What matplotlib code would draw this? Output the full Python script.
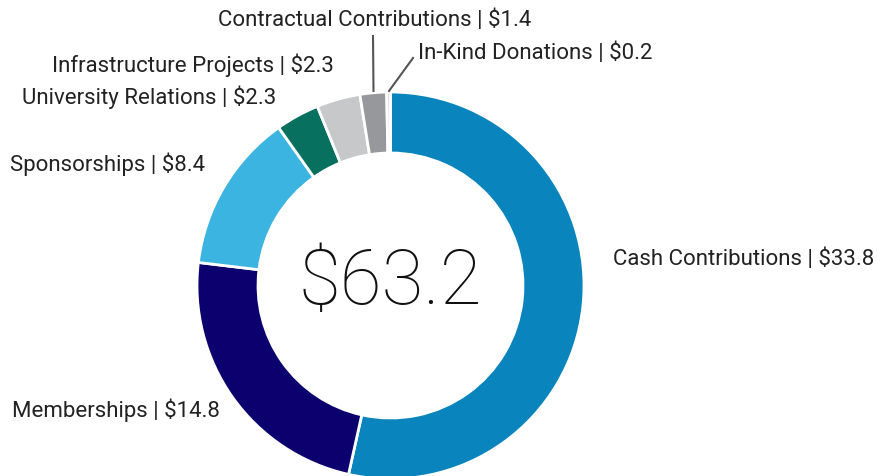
import matplotlib
matplotlib.use('Agg')
import matplotlib.pyplot as plt

categories = ['Cash Contributions', 'Memberships', 'Sponsorships',
              'University Relations', 'Infrastructure Projects',
              'Contractual Contributions', 'In-Kind Donations']
values = [33.8, 14.8, 8.4, 2.3, 2.3, 1.4, 0.2]
colors = ['#0a84bc', '#0b006e', '#3cb4e1', '#08705f', '#c7c8ca', '#97989b', '#dcdcdc']
total = 63.2

# label anchor points in pixel coords (from top-left)
label_pos = [(613, 259), (12, 410), (10, 164), (22, 97), (52, 65), (218, 20), (418, 53)]

W, H = 877, 476
plt.rcParams['font.family'] = ['Roboto', 'DejaVu Sans']

fig = plt.figure(figsize=(W / 100, H / 100), dpi=100)
ax = fig.add_axes([0, 0, 1, 1])

cx, cy, r = 390.5, H - 285.5, 193.5
ax.pie(values, colors=colors, startangle=90, counterclock=False,
       center=(cx, cy), radius=r, frame=True,
       wedgeprops=dict(width=61, edgecolor='white', linewidth=2))
ax.set_xlim(0, W)
ax.set_ylim(0, H)
ax.set_aspect('auto')
ax.axis('off')

for name, val, (x, y) in zip(categories, values, label_pos):
    ax.text(x, H - y, f'{name} | ${val}', fontsize=16, color='#222222',
            ha='left', va='center')

# leader lines for the two thin slices
ax.plot([373, 373.5], [H - 36, H - 91], color='#555555', lw=1.5)
ax.plot([413, 389], [H - 58, H - 91], color='#555555', lw=1.5)

ax.text(cx, cy + 2, f'${total}', fontsize=55, fontweight='light',
        ha='center', va='center', color='#111111')

fig.savefig('out.png', dpi=100)
